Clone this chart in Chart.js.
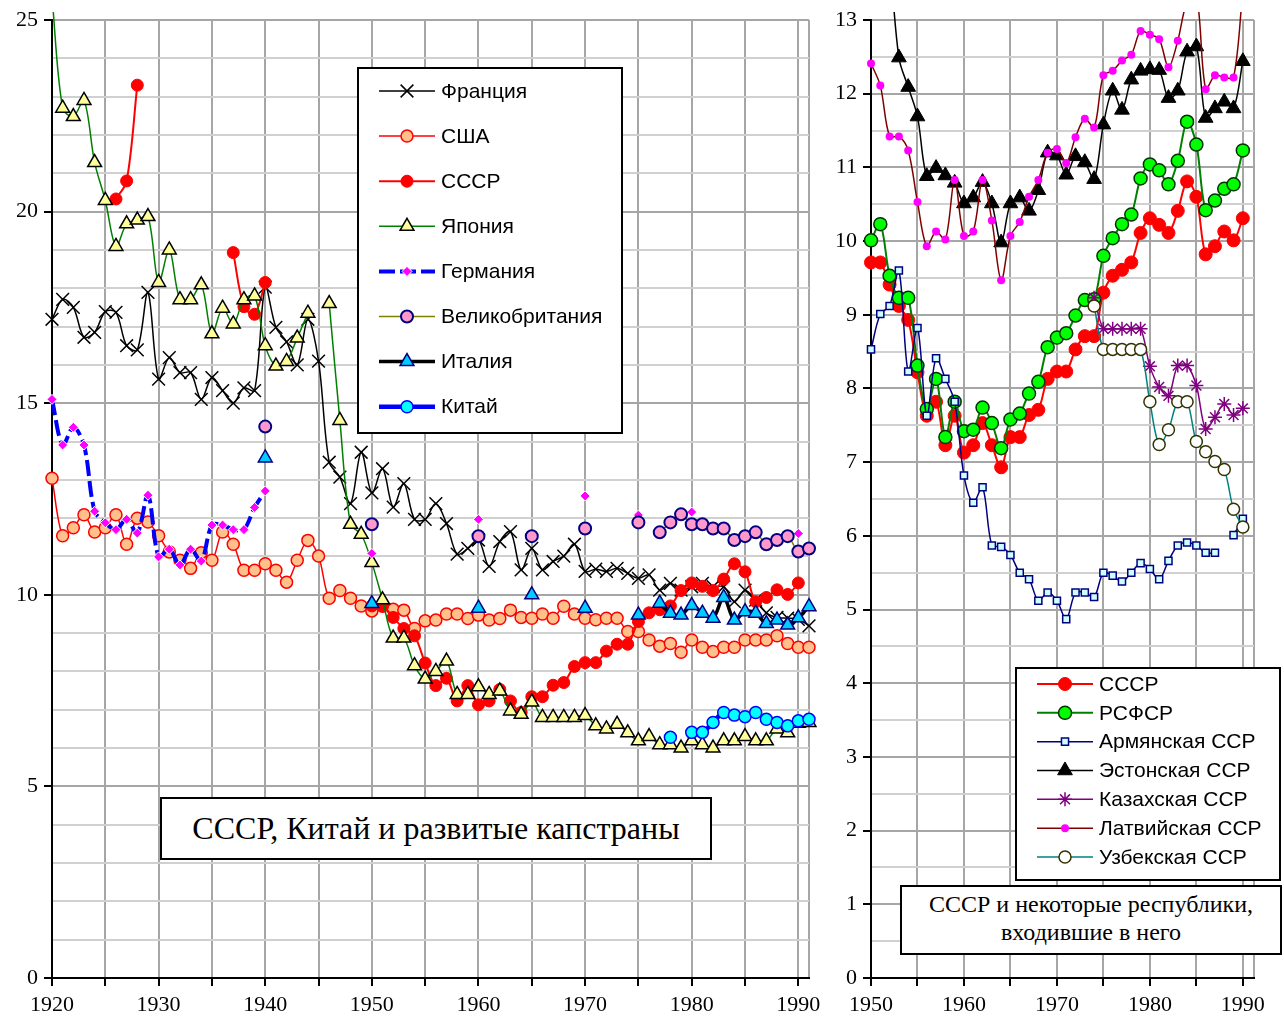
<!DOCTYPE html>
<html>
<head>
<meta charset="utf-8">
<script src="https://cdn.jsdelivr.net/npm/chart.js@4.4.1/dist/chart.umd.min.js"></script>
<style>
  body { margin: 0; background: #fff; }
  #wrap { position: relative; width: 1284px; height: 1018px; overflow: hidden; background: #fff; }
  #left { position: absolute; left: 0; top: 0; }
  #right { position: absolute; left: 830px; top: 0; }
  .note { position: absolute; box-sizing: border-box; border: 2px solid #000; background: #fff;
          font-family: "Liberation Serif", "Times New Roman", serif; color: #000; text-align: center; }
</style>
</head>
<body>
<div id="wrap">
  <canvas id="left" width="830" height="1018"></canvas>
  <canvas id="right" width="454" height="1018"></canvas>
  <div class="note" style="left:160px;top:797px;width:552px;height:63px;font-size:32px;line-height:59px;">СССР, Китай и развитые капстраны</div>
  <div class="note" style="left:900px;top:885px;width:382px;height:70px;font-size:24px;line-height:28px;padding-top:3px;">СССР и некоторые республики,<br>входившие в него</div>
</div>
<script>
const N = null;

// left chart: 1920..1991
const years = [];
for (let y = 1920; y <= 1991; y++) years.push(y);

const france = [
  17.19, 17.71, 17.5, 16.72, 16.85, 17.39, 17.37, 16.5, 16.39, 17.89,
  15.63, 16.19, 15.8, 15.8, 15.1, 15.67, 15.33, 15.0, 15.4, 15.33,
  18.03, 16.98, 16.6, 16.0, 17.19, 16.1, 13.46, 13.07, 12.38, 13.72,
  12.66, 13.29, 12.29, 12.9, 11.97, 11.97, 12.38, 11.86, 11.06, 11.21,
  11.43, 10.74, 11.39, 11.65, 10.65, 11.21, 10.65, 10.87, 11.01, 11.32,
  10.61, 10.67, 10.61, 10.69, 10.56, 10.43, 10.52, 10.12, 10.3, 10.12,
  10.21, 10.3, 10.21, 10.21, 9.82, 10.12, 9.86, 9.53, 9.41, 9.39,
  9.36, 9.19
];
const usa = [
  13.04, 11.54, 11.75, 12.09, 11.64, 11.75, 12.09, 11.32, 12.0, 11.9,
  11.54, 11.12, 10.9, 10.69, 11.1, 10.9, 11.64, 11.32, 10.64, 10.64,
  10.81, 10.64, 10.33, 10.9, 11.42, 11.01, 9.91, 10.11, 9.91, 9.71,
  9.58, 9.7, 9.62, 9.6, 9.12, 9.32, 9.34, 9.5, 9.5, 9.38,
  9.47, 9.34, 9.38, 9.6, 9.41, 9.39, 9.5, 9.39, 9.7, 9.5,
  9.39, 9.35, 9.39, 9.39, 9.04, 9.04, 8.82, 8.66, 8.73, 8.5,
  8.82, 8.63, 8.52, 8.63, 8.63, 8.82, 8.82, 8.82, 8.93, 8.73,
  8.63, 8.63
];
const ussr = [
  N, N, N, N, N, N, 20.33, 20.8, 23.3, N,
  N, N, N, N, N, N, N, 18.93, 17.52, 17.32,
  18.15, N, N, N, N, N, N, N, N, N,
  9.71, 9.71, 9.41, 9.12, 8.93, 8.22, 7.63, 7.82, 7.23, 7.63,
  7.13, 7.23, 7.53, 7.23, 6.93, 7.34, 7.34, 7.64, 7.71, 8.13,
  8.23, 8.23, 8.53, 8.71, 8.71, 9.3, 9.53, 9.61, 9.71, 10.11,
  10.31, 10.22, 10.11, 10.41, 10.81, 10.6, 9.82, 9.93, 10.13, 10.01,
  10.31, N
];
const japan = [
  25.6, 22.7, 22.48, 22.9, 21.28, 20.29, 19.09, 19.68, 19.78, 19.87,
  18.15, 19.0, 17.7, 17.7, 18.09, 16.81, 17.48, 17.07, 17.7, 17.8,
  16.5, 15.97, 16.09, 16.7, 17.35, N, 17.6, 14.55, 11.84, 11.58,
  10.84, 9.87, 8.87, 8.87, 8.15, 7.8, 8.0, 8.27, 7.4, 7.4,
  7.6, 7.4, 7.49, 6.97, 6.88, 7.2, 6.8, 6.8, 6.8, 6.8,
  6.85, 6.58, 6.5, 6.62, 6.4, 6.19, 6.3, 6.09, 6.09, 6.0,
  6.19, 6.09, 6.0, 6.19, 6.19, 6.3, 6.19, 6.19, 6.5, 6.4,
  6.65, 6.67
];
const germany = [
  15.1, 13.91, 14.37, 13.91, 12.18, 11.88, 11.7, 11.97, 11.61, 12.6,
  10.99, 11.19, 10.78, 11.19, 10.88, 11.82, 11.82, 11.7, 11.7, 12.28,
  12.71, N, N, N, N, N, N, N, N, N,
  11.08, N, N, N, N, N, N, N, N, N,
  11.97, N, N, N, N, N, N, N, N, N,
  12.58, N, N, N, N, 12.08, N, N, N, N,
  12.16, N, N, N, N, N, N, N, N, N,
  11.6, N
];
const britain = [
  N, N, N, N, N, N, N, N, N, N,
  N, N, N, N, N, N, N, N, N, N,
  14.39, N, N, N, N, N, N, N, N, N,
  11.84, N, N, N, N, N, N, N, N, N,
  11.53, N, N, N, N, 11.53, N, N, N, N,
  11.73, N, N, N, N, 11.89, N, 11.63, 11.89, 12.1,
  11.84, 11.84, 11.73, 11.73, 11.43, 11.53, 11.63, 11.32, 11.43, 11.53,
  11.13, 11.21
];
const italy = [
  N, N, N, N, N, N, N, N, N, N,
  N, N, N, N, N, N, N, N, N, N,
  13.57, N, N, N, N, N, N, N, N, N,
  9.77, N, N, N, N, N, N, N, N, N,
  9.65, N, N, N, N, 10.0, N, N, N, N,
  9.65, N, N, N, N, 9.47, N, 9.78, 9.52, 9.47,
  9.72, 9.52, 9.39, 9.93, 9.34, 9.56, 9.52, 9.25, 9.34, 9.21,
  9.4, 9.69
];
const china = [
  N, N, N, N, N, N, N, N, N, N,
  N, N, N, N, N, N, N, N, N, N,
  N, N, N, N, N, N, N, N, N, N,
  N, N, N, N, N, N, N, N, N, N,
  N, N, N, N, N, N, N, N, N, N,
  N, N, N, N, N, N, N, N, 6.28, N,
  6.41, 6.41, 6.67, 6.93, 6.86, 6.82, 6.93, 6.75, 6.67, 6.58,
  6.71, 6.75
];

// right chart: 1950..1990
const yearsR = years.slice(30, 71);
const ussrR = ussr.slice(30, 71);
const rsfsr = [
  10.01, 10.23, 9.53, 9.23, 9.23, 8.31, 7.72, 8.13, 7.34, 7.82,
  7.42, 7.44, 7.74, 7.53, 7.19, 7.58, 7.66, 7.93, 8.09, 8.56,
  8.69, 8.75, 8.99, 9.2, 9.21, 9.8, 10.04, 10.23, 10.36, 10.85,
  11.04, 10.96, 10.77, 11.09, 11.62, 11.31, 10.42, 10.55, 10.71, 10.77,
  11.23
];
const armenia = [
  8.53, 9.01, 9.12, 9.6, 8.23, 8.82, 7.63, 8.41, 8.13, 7.82,
  6.82, 6.45, 6.66, 5.87, 5.85, 5.74, 5.5, 5.41, 5.12, 5.23,
  5.12, 4.87, 5.23, 5.23, 5.17, 5.5, 5.46, 5.38, 5.5, 5.63,
  5.55, 5.41, 5.66, 5.87, 5.91, 5.87, 5.77, 5.77, N, 6.01,
  6.23
];
const estonia = [
  N, N, 13.9, 12.49, 12.09, 11.69, 10.88, 10.99, 10.89, 10.79,
  10.51, 10.59, 10.8, 10.51, 9.98, 10.51, 10.59, 10.41, 10.69, 11.2,
  11.16, 10.9, 11.15, 11.07, 10.84, 11.58, 12.04, 11.78, 12.19, 12.31,
  12.33, 12.32, 11.94, 12.04, 12.57, 12.64, 11.67, 11.8, 11.89, 11.8,
  12.44
];
const kazakh = [
  N, N, N, N, N, N, N, N, N, N,
  N, N, N, N, N, N, N, N, N, N,
  N, N, N, N, 9.23, 8.81, 8.81, 8.81, 8.81, 8.81,
  8.3, 8.02, 7.9, 8.31, 8.31, 8.04, 7.45, 7.61, 7.79, 7.64,
  7.73
];
const latvia = [
  12.41, 12.11, 11.42, 11.42, 11.23, 10.53, 9.93, 10.13, 10.02, 10.83,
  10.07, 10.13, 10.83, 10.28, 9.47, 10.07, 10.26, 10.6, 10.83, 11.2,
  11.25, 11.06, 11.41, 11.66, 11.54, 12.25, 12.31, 12.45, 12.53, 12.85,
  12.8, 12.74, 12.36, 12.72, 13.25, 13.35, 12.06, 12.25, 12.22, 12.22,
  13.4
];
const uzbek = [
  N, N, N, N, N, N, N, N, N, N,
  N, N, N, N, N, N, N, N, N, N,
  N, N, N, N, 9.12, 8.53, 8.53, 8.53, 8.53, 8.53,
  7.82, 7.24, 7.44, 7.82, 7.82, 7.28, 7.14, 7.01, 6.9, 6.36,
  6.12
];

const tickFont = { family: '"Liberation Serif", "Times New Roman", serif', size: 22 };
const legendFont = '21px "Liberation Sans", Arial, sans-serif';

function series(xs, i, label, values, style) {
  return Object.assign({
    label: label,
    data: xs.map((x, k) => ({ x: x, y: values[k] })),
    order: -i,
    tension: 0.33,
    spanGaps: false,
    fill: false,
    clip: { left: 12, top: 8, right: 12, bottom: 0 }
  }, style);
}

// legend box drawn on the canvas, line sample + marker + name
const boxLegend = {
  id: 'boxLegend',
  afterDraw(chart, args, o) {
    const ctx = chart.ctx;
    ctx.save();
    ctx.fillStyle = '#fff';
    ctx.fillRect(o.x, o.y, o.w, o.h);
    ctx.strokeStyle = '#000';
    ctx.lineWidth = 2;
    ctx.strokeRect(o.x, o.y, o.w, o.h);
    chart.data.datasets.forEach((ds, i) => {
      const y = o.y0 + i * o.dy;
      ctx.save();
      ctx.strokeStyle = ds.borderColor;
      ctx.lineWidth = ds.borderWidth;
      ctx.setLineDash(ds.borderDash || []);
      ctx.beginPath();
      ctx.moveTo(o.x1, y);
      ctx.lineTo(o.x2, y);
      ctx.stroke();
      ctx.setLineDash([]);
      ctx.fillStyle = ds.pointBackgroundColor;
      ctx.strokeStyle = ds.pointBorderColor;
      ctx.lineWidth = ds.pointBorderWidth;
      Chart.helpers.drawPoint(ctx, {
        pointStyle: ds.pointStyle, radius: ds.pointRadius, rotation: 0, borderWidth: ds.pointBorderWidth
      }, o.xm, y);
      ctx.restore();
      ctx.fillStyle = '#000';
      ctx.font = legendFont;
      ctx.textBaseline = 'middle';
      ctx.fillText(ds.label, o.xt, y + 1);
    });
    ctx.restore();
  }
};

function makeOptions(c) {
  return {
    responsive: false,
    animation: false,
    events: [],
    layout: { padding: { left: 0, top: 20, right: c.padRight, bottom: 0 } },
    elements: { line: { capBezierPoints: false } },
    plugins: { legend: { display: false }, tooltip: { enabled: false }, boxLegend: c.legend },
    scales: {
      x: {
        type: 'linear', min: c.xMin, max: c.xMax,
        afterBuildTicks: s => {
          const t = [];
          for (let v = c.xMin; v <= 1990; v += 5) t.push({ value: v });
          t.push({ value: c.xMax });
          s.ticks = t;
        },
        afterFit: s => { s.height = 40; },
        ticks: {
          autoSkip: false, maxRotation: 0, padding: 6, color: '#000', font: tickFont,
          callback: v => (v % 10 === 0 ? String(v) : '')
        },
        grid: {
          color: '#a6a6a6', lineWidth: 2, tickLength: 8, tickWidth: 2,
          tickColor: ctx => (ctx.tick && ctx.tick.value % 5 === 0 ? '#000' : 'rgba(0,0,0,0)')
        },
        border: { color: '#000', width: 2 }
      },
      y: {
        type: 'linear', min: 0, max: c.yMax,
        afterBuildTicks: s => {
          const t = [];
          for (let k = 0; k * c.yStep <= c.yMax + 1e-9; k++) t.push({ value: k * c.yStep });
          s.ticks = t;
        },
        afterFit: s => { s.width = c.yWidth; },
        ticks: {
          autoSkip: false, padding: 6, color: '#000', font: tickFont,
          callback: v => (Math.abs(v % c.yLabel) < 1e-9 ? String(v) : '')
        },
        grid: {
          lineWidth: 2, tickLength: 8, tickWidth: 2,
          color: ctx => (ctx.tick && Math.abs(ctx.tick.value % c.yMajor) < 1e-9 ? '#a6a6a6' : '#d0d0d0'),
          tickColor: ctx => (ctx.tick && Math.abs(ctx.tick.value % c.yLabel) < 1e-9 ? '#000' : 'rgba(0,0,0,0)')
        },
        border: { color: '#000', width: 2 }
      }
    }
  };
}

new Chart(document.getElementById('left'), {
  type: 'line',
  data: {
    datasets: [
      series(years, 0, 'Франция', france, {
        borderColor: '#000', borderWidth: 1.5, pointStyle: 'crossRot', pointRadius: 9,
        pointBackgroundColor: '#000', pointBorderColor: '#000', pointBorderWidth: 1.5 }),
      series(years, 1, 'США', usa, {
        borderColor: '#ff0000', borderWidth: 1.5, pointStyle: 'circle', pointRadius: 6,
        pointBackgroundColor: '#ffc08c', pointBorderColor: '#ff0000', pointBorderWidth: 1.5 }),
      series(years, 2, 'СССР', ussr, {
        borderColor: '#ff0000', borderWidth: 2, pointStyle: 'circle', pointRadius: 6,
        pointBackgroundColor: '#ff0000', pointBorderColor: '#ff0000', pointBorderWidth: 1 }),
      series(years, 3, 'Япония', japan, {
        borderColor: '#008000', borderWidth: 1.5, pointStyle: 'triangle', pointRadius: 8,
        pointBackgroundColor: '#ffff99', pointBorderColor: '#000', pointBorderWidth: 1.5 }),
      series(years, 4, 'Германия', germany, {
        borderColor: '#0000ff', borderWidth: 4, borderDash: [16, 5], pointStyle: 'rectRot', pointRadius: 5,
        pointBackgroundColor: '#ff00ff', pointBorderColor: '#ffffff', pointBorderWidth: 1 }),
      series(years, 5, 'Великобритания', britain, {
        borderColor: '#808000', borderWidth: 1.5, pointStyle: 'circle', pointRadius: 6,
        pointBackgroundColor: '#ff99cc', pointBorderColor: '#000080', pointBorderWidth: 2 }),
      series(years, 6, 'Италия', italy, {
        borderColor: '#000', borderWidth: 3.5, pointStyle: 'triangle', pointRadius: 8,
        pointBackgroundColor: '#00ccff', pointBorderColor: '#000080', pointBorderWidth: 1.5 }),
      series(years, 7, 'Китай', china, {
        borderColor: '#0000ff', borderWidth: 4.5, pointStyle: 'circle', pointRadius: 6,
        pointBackgroundColor: '#00ffff', pointBorderColor: '#0000ff', pointBorderWidth: 1.5 })
    ]
  },
  options: makeOptions({
    xMin: 1920, xMax: 1991, yMax: 25, yStep: 1, yMajor: 5, yLabel: 5, yWidth: 52, padRight: 21,
    legend: { x: 358, y: 68, w: 264, h: 365, y0: 91, dy: 45.1, x1: 379, x2: 435, xm: 407, xt: 441 }
  }),
  plugins: [boxLegend]
});

new Chart(document.getElementById('right'), {
  type: 'line',
  data: {
    datasets: [
      series(yearsR, 0, 'СССР', ussrR, {
        borderColor: '#ff0000', borderWidth: 2, pointStyle: 'circle', pointRadius: 6.5,
        pointBackgroundColor: '#ff0000', pointBorderColor: '#ff0000', pointBorderWidth: 1 }),
      series(yearsR, 1, 'РСФСР', rsfsr, {
        borderColor: '#008000', borderWidth: 2, pointStyle: 'circle', pointRadius: 6.5,
        pointBackgroundColor: '#00ff00', pointBorderColor: '#003300', pointBorderWidth: 1.5 }),
      series(yearsR, 2, 'Армянская ССР', armenia, {
        borderColor: '#000080', borderWidth: 1.5, pointStyle: 'rect', pointRadius: 5,
        pointBackgroundColor: '#ccffff', pointBorderColor: '#000080', pointBorderWidth: 1.5 }),
      series(yearsR, 3, 'Эстонская ССР', estonia, {
        borderColor: '#000', borderWidth: 1.5, pointStyle: 'triangle', pointRadius: 8.5,
        pointBackgroundColor: '#000', pointBorderColor: '#000', pointBorderWidth: 1 }),
      series(yearsR, 4, 'Казахская ССР', kazakh, {
        borderColor: '#800080', borderWidth: 1.5, pointStyle: 'star', pointRadius: 7,
        pointBackgroundColor: '#800080', pointBorderColor: '#800080', pointBorderWidth: 1.5 }),
      series(yearsR, 5, 'Латвийская ССР', latvia, {
        borderColor: '#800000', borderWidth: 1.5, pointStyle: 'circle', pointRadius: 4,
        pointBackgroundColor: '#ff00ff', pointBorderColor: '#ff00ff', pointBorderWidth: 0 }),
      series(yearsR, 6, 'Узбекская ССР', uzbek, {
        borderColor: '#008080', borderWidth: 1.5, pointStyle: 'circle', pointRadius: 6,
        pointBackgroundColor: '#ffffff', pointBorderColor: '#333300', pointBorderWidth: 1.5 })
    ]
  },
  options: makeOptions({
    xMin: 1950, xMax: 1991.2, yMax: 13, yStep: 0.5, yMajor: 1, yLabel: 1, yWidth: 41, padRight: 30,
    legend: { x: 186, y: 668, w: 264, h: 212, y0: 684, dy: 28.83, x1: 207, x2: 263, xm: 235, xt: 269 }
  }),
  plugins: [boxLegend]
});
</script>
</body>
</html>
